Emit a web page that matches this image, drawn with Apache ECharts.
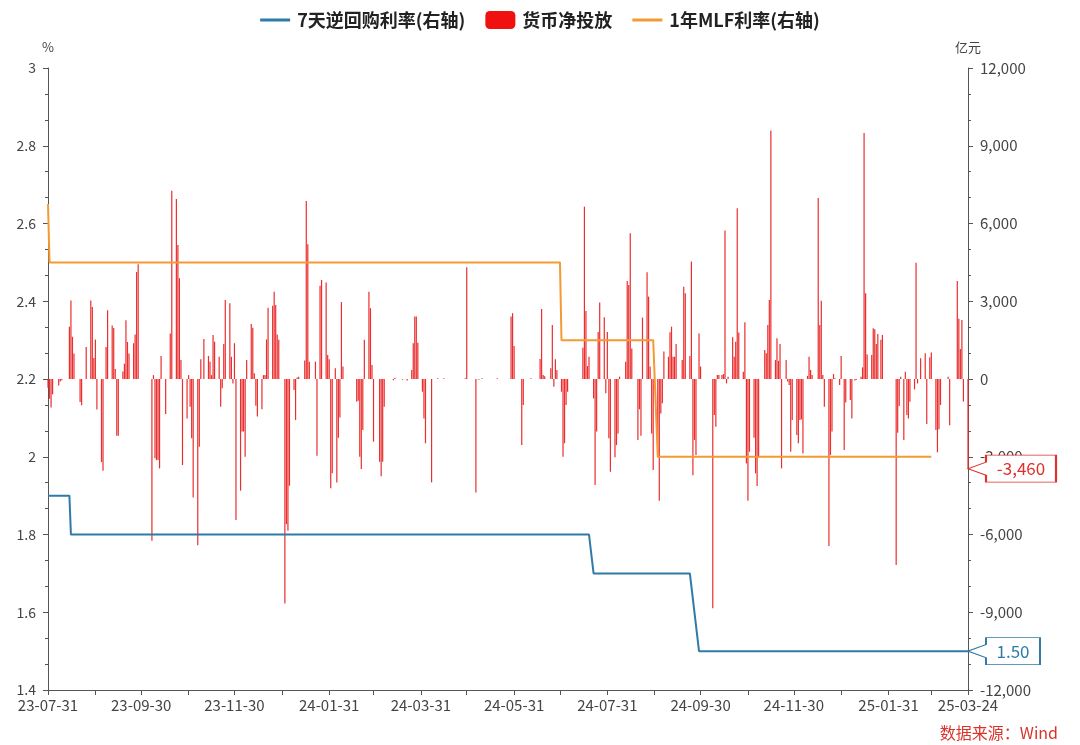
<!DOCTYPE html>
<html><head><meta charset="utf-8">
<script src="https://cdn.jsdelivr.net/npm/echarts@6/dist/echarts.min.js"></script>
<style>html,body{margin:0;padding:0;background:#fff}#c{width:1080px;height:745px}</style>
</head><body><div id="c"></div>
<script>
const startDate = '2023-07-31';
const endDate = '2025-03-24';
const labelDates = ['2023-07-31','2023-09-30','2023-11-30','2024-01-31','2024-03-31','2024-05-31','2024-07-31','2024-09-30','2024-11-30','2025-01-31','2025-03-24'];
const tickDates = ['2023-07-31','2023-08-31','2023-09-30','2023-10-31','2023-11-30','2023-12-31','2024-01-31','2024-02-29','2024-03-31','2024-04-30','2024-05-31','2024-06-30','2024-07-31','2024-08-31','2024-09-30','2024-10-31','2024-11-30','2024-12-31','2025-01-31','2025-02-28','2025-03-24'];

// 7天逆回购利率 (change points)
const repoRate = [['2023-07-31',1.9],['2023-08-14',1.9],['2023-08-15',1.8],['2024-07-19',1.8],['2024-07-22',1.7],['2024-09-23',1.7],['2024-09-29',1.5],['2025-03-24',1.5]];
// 1年MLF利率 (change points)
const mlfRate = [['2023-07-31',2.65],['2023-08-01',2.5],['2024-06-30',2.5],['2024-07-01',2.3],['2024-08-30',2.3],['2024-09-02',2.0],['2025-02-28',2.0]];

// 货币净投放 (亿元)
const net2023 = [
['2023-07-31',-340],['2023-08-01',-760],['2023-08-02',-1100],['2023-08-03',-590],['2023-08-07',-250],['2023-08-08',-100],['2023-08-09',-50],
['2023-08-14',2020],['2023-08-15',3030],['2023-08-16',1630],['2023-08-17',980],['2023-08-21',-890],['2023-08-22',-1010],['2023-08-25',1230],
['2023-08-28',3030],['2023-08-29',2780],['2023-08-30',810],['2023-08-31',1520],['2023-09-01',-1180],['2023-09-04',-3200],['2023-09-05',-3540],
['2023-09-07',1230],['2023-09-08',2650],['2023-09-11',2060],['2023-09-12',1970],['2023-09-13',390],['2023-09-14',-2190],['2023-09-15',-2190],
['2023-09-18',290],['2023-09-19',590],['2023-09-20',2270],['2023-09-21',1430],['2023-09-22',980],['2023-09-25',1380],['2023-09-26',1720],
['2023-09-27',4130],['2023-09-28',4430],['2023-10-07',-6240],['2023-10-08',150],['2023-10-09',-3060],['2023-10-10',-3130],['2023-10-11',-3130],
['2023-10-12',-3450],['2023-10-13',890],['2023-10-16',-1350],['2023-10-19',1760],['2023-10-20',7260],['2023-10-23',6950],['2023-10-24',5170],
['2023-10-25',3890],['2023-10-26',730],['2023-10-27',-3320],['2023-10-30',-1520],['2023-10-31',150],['2023-11-01',-1070],['2023-11-02',-2290],
['2023-11-03',-4570],['2023-11-06',-6410],['2023-11-07',-2610],['2023-11-08',760],['2023-11-10',1540],['2023-11-13',890],['2023-11-14',670],
['2023-11-15',150],['2023-11-16',1700],['2023-11-17',1440],['2023-11-20',860],['2023-11-21',-1070],['2023-11-22',-360],['2023-11-23',1350],
['2023-11-24',3050],['2023-11-27',2920],['2023-11-28',860],['2023-11-29',-170],['2023-11-30',1380],['2023-12-01',-5440],['2023-12-04',-4310],
['2023-12-05',-2030],['2023-12-06',-2030],['2023-12-07',-3000],['2023-12-08',730],['2023-12-11',2120],['2023-12-12',1980],['2023-12-13',220],
['2023-12-14',-1030],['2023-12-15',-1450],['2023-12-18',-1170],['2023-12-19',150],['2023-12-20',150],['2023-12-21',1530],['2023-12-22',2750],
['2023-12-25',2830],['2023-12-26',3370],['2023-12-27',2860],['2023-12-28',1720],['2023-12-29',1510]
];
const net2024 = [
['2024-01-02',-8660],['2024-01-03',-5600],['2024-01-04',-5860],['2024-01-05',-4120],['2024-01-08',-420],['2024-01-09',-1580],['2024-01-10',60],
['2024-01-11',90],['2024-01-15',710],['2024-01-16',6870],['2024-01-17',5200],['2024-01-18',670],['2024-01-22',670],['2024-01-23',-2960],
['2024-01-25',3600],['2024-01-26',3820],['2024-01-29',3720],['2024-01-30',930],['2024-01-31',760],['2024-02-01',-4220],['2024-02-02',-3640],
['2024-02-04',410],['2024-02-05',-3990],['2024-02-06',-2270],['2024-02-07',-1490],['2024-02-08',2970],['2024-02-09',480],['2024-02-18',-875],
['2024-02-19',-840],['2024-02-20',-3000],['2024-02-21',-3470],['2024-02-22',-1970],['2024-02-23',1510],['2024-02-26',3370],['2024-02-27',2730],
['2024-02-28',540],['2024-02-29',-2420],['2024-03-04',-3190],['2024-03-05',-3750],['2024-03-06',-3190],['2024-03-07',-1070],['2024-03-13',-50],
['2024-03-14',50],['2024-03-19',-30],['2024-03-22',-60],['2024-03-25',350],['2024-03-26',1380],['2024-03-27',2410],['2024-03-28',2410],
['2024-03-29',1400],['2024-04-01',-490],['2024-04-02',-1520],['2024-04-03',-2480],['2024-04-07',-3990],['2024-04-11',30],['2024-04-15',30],
['2024-04-29',30],['2024-04-30',4310],['2024-05-06',-4380],['2024-05-08',-30],['2024-05-10',30],['2024-05-20',30],['2024-05-29',2410],
['2024-05-30',2540],['2024-05-31',1270],['2024-06-05',-2550],['2024-06-06',-1000],['2024-06-11',30],['2024-06-17',770],['2024-06-18',2700],
['2024-06-19',150],['2024-06-20',110],['2024-06-24',410],['2024-06-25',2080],['2024-06-26',-300],['2024-06-27',760],['2024-06-28',350],
['2024-07-01',-490],['2024-07-02',-3000],['2024-07-03',-2480],['2024-07-04',-1000],['2024-07-05',-490],['2024-07-15',1210],['2024-07-16',6650],
['2024-07-17',2620],['2024-07-18',500],['2024-07-19',860],['2024-07-22',-750],['2024-07-23',-4090],['2024-07-24',-2030],['2024-07-25',1810],
['2024-07-26',2950],['2024-07-29',2380],['2024-07-30',-550],['2024-07-31',1810],['2024-08-01',-2290],['2024-08-02',-3580],['2024-08-05',-3020],
['2024-08-06',-2550],['2024-08-07',-2100],['2024-08-08',90],['2024-08-12',670],['2024-08-13',3780],['2024-08-14',3630],['2024-08-15',5620],
['2024-08-16',1180],['2024-08-20',-2350],['2024-08-21',-1170],['2024-08-22',-2190],['2024-08-23',2370],['2024-08-26',4120],['2024-08-27',3180],
['2024-08-28',480],['2024-08-29',-2100],['2024-08-30',-3510],['2024-09-02',-3020],['2024-09-03',-4700],['2024-09-04',-1330],['2024-09-05',-940],
['2024-09-06',1060],['2024-09-09',860],['2024-09-10',1800],['2024-09-11',2020],['2024-09-12',860],['2024-09-13',860],['2024-09-14',1350],
['2024-09-18',730],['2024-09-19',3560],['2024-09-20',3310],['2024-09-23',890],['2024-09-24',4530],['2024-09-25',-3710],['2024-09-26',-2350],
['2024-09-27',-2930],['2024-09-29',1760],['2024-09-30',480],['2024-10-08',-8850],['2024-10-09',-1390],['2024-10-10',-1840],['2024-10-11',150],
['2024-10-12',150],['2024-10-14',150],['2024-10-15',190],['2024-10-16',5730],['2024-10-17',-170],['2024-10-18',90],['2024-10-21',1610],
['2024-10-22',860],['2024-10-23',1440],['2024-10-24',6590],['2024-10-25',1790],['2024-10-28',280],['2024-10-29',2190],['2024-10-30',-3260],
['2024-10-31',-4700],['2024-11-01',-2810],['2024-11-04',-2270],['2024-11-05',-3640],['2024-11-06',-4130],['2024-11-07',-3020],['2024-11-11',1120],
['2024-11-12',990],['2024-11-13',2080],['2024-11-14',3050],['2024-11-15',9590],['2024-11-18',730],['2024-11-19',1570],['2024-11-20',700],
['2024-11-21',1350],['2024-11-22',-3450],['2024-11-25',730],['2024-11-26',-100],['2024-11-27',-230],['2024-11-28',-2810],['2024-11-29',-1580],
['2024-12-02',-2160],['2024-12-03',-2480],['2024-12-04',-1580],['2024-12-05',-1560],['2024-12-06',-2870],['2024-12-09',120],['2024-12-10',860],
['2024-12-11',350],['2024-12-12',150],['2024-12-16',6980],['2024-12-17',2080],['2024-12-18',3020],['2024-12-19',150],['2024-12-20',-1070],
['2024-12-23',-6440],['2024-12-24',-2930],['2024-12-25',-2030],['2024-12-26',190],['2024-12-27',30],['2024-12-30',-230],['2024-12-31',890]
];
const net2025 = [
['2025-01-02',-2740],['2025-01-03',-910],['2025-01-06',-810],['2025-01-07',-1520],['2025-01-09',-60],['2025-01-10',-30],['2025-01-13',90],
['2025-01-14',450],['2025-01-15',9490],['2025-01-16',3310],['2025-01-17',950],['2025-01-20',930],['2025-01-21',1960],['2025-01-22',1920],
['2025-01-23',1350],['2025-01-24',1740],['2025-01-26',1510],['2025-01-27',1700],['2025-02-05',-7180],['2025-02-06',-2070],['2025-02-07',-1040],
['2025-02-08',90],['2025-02-10',-2350],['2025-02-11',280],['2025-02-12',-1390],['2025-02-13',-1520],['2025-02-14',-875],['2025-02-17',-400],
['2025-02-18',4490],['2025-02-19',-170],['2025-02-21',800],['2025-02-24',990],['2025-02-25',-1740],['2025-02-27',840],['2025-02-28',1020],
['2025-03-03',-1970],['2025-03-04',-2830],['2025-03-05',-1940],['2025-03-06',-1000],['2025-03-11',90],['2025-03-12',-1780],['2025-03-17',3780],
['2025-03-18',2320],['2025-03-19',1160],['2025-03-20',2280],['2025-03-21',-875],['2025-03-24',-3460]
];

function buildDays(s, e) {
  const out = [];
  let t = Date.parse(s + 'T00:00:00Z');
  const end = Date.parse(e + 'T00:00:00Z');
  while (t <= end) { out.push(new Date(t).toISOString().slice(0, 10)); t += 86400000; }
  return out;
}
const days = buildDays(startDate, endDate);
const labelSet = new Set(labelDates);
const tickSet = new Set(tickDates);
const netData = net2023.concat(net2024, net2025);
const lastNet = netData[netData.length - 1];
const lastRepo = repoRate[repoRate.length - 1];

const FONT = '"Noto Sans CJK SC", "Noto Sans", sans-serif';
const BLUE = '#2f7aa6', ORANGE = '#f39a32', RED = '#ea2e2e';
const LINE_ICON = 'path://M0,0L30,0L30,3L0,3Z';

const chart = echarts.init(document.getElementById('c'), null, { renderer: 'canvas' });
chart.setOption({
  animation: false,
  backgroundColor: '#fff',
  textStyle: { fontFamily: FONT },
  legend: {
    top: 6, left: 'center', itemGap: 20, itemWidth: 30, itemHeight: 18,
    textStyle: { fontSize: 18, fontWeight: 'bold', color: '#222', fontFamily: FONT, padding: [0, 0, 0, 2] },
    data: [
      { name: '7天逆回购利率(右轴)', icon: LINE_ICON },
      { name: '货币净投放', icon: 'roundRect', itemStyle: { color: '#f01010' } },
      { name: '1年MLF利率(右轴)', icon: LINE_ICON }
    ]
  },
  grid: { left: 48, right: 112, top: 68, bottom: 55, containLabel: false },
  xAxis: {
    type: 'category', data: days, boundaryGap: false,
    axisLine: { onZero: false, lineStyle: { color: '#555', width: 1 } },
    axisTick: { show: true, length: 5, lineStyle: { color: '#555' }, interval: (i, v) => tickSet.has(v) },
    axisLabel: { color: '#444', fontSize: 15, margin: 8, interval: (i, v) => labelSet.has(v), formatter: v => v.slice(2) },
    splitLine: { show: false }
  },
  yAxis: [
    {
      type: 'value', min: 1.4, max: 3, interval: 0.2, position: 'left',
      name: '%', nameGap: 14, nameTextStyle: { color: '#444', fontSize: 13, align: 'center' },
      axisLine: { show: true, lineStyle: { color: '#555' } },
      axisTick: { show: true, length: 5, lineStyle: { color: '#555' } },
      minorTick: { show: true, splitNumber: 3, length: 3, lineStyle: { color: '#555' } },
      axisLabel: { color: '#444', fontSize: 14, margin: 12 },
      splitLine: { show: false }
    },
    {
      type: 'value', min: -12000, max: 12000, interval: 3000, position: 'right',
      name: '亿元', nameGap: 14, nameTextStyle: { color: '#444', fontSize: 13, align: 'center' },
      axisLine: { show: true, lineStyle: { color: '#555' } },
      axisTick: { show: true, length: 5, lineStyle: { color: '#555' } },
      minorTick: { show: true, splitNumber: 3, length: 3, lineStyle: { color: '#555' } },
      axisLabel: { color: '#444', fontSize: 15, margin: 12, formatter: v => v.toLocaleString('en-US') },
      splitLine: { show: false }
    }
  ],
  series: [
    {
      name: '货币净投放', type: 'bar', yAxisIndex: 1, data: netData, barWidth: 1.2,
      itemStyle: { color: RED }, z: 2,
      markPoint: {
        symbol: 'path://M0,13.5L18,7L18,0L88,0L88,27L18,27L18,20Z',
        symbolSize: [88, 27], symbolKeepAspect: false, symbolOffset: ['50%', 0],
        itemStyle: { color: '#fff', borderColor: '#e0302a', borderWidth: 1.2 },
        label: { show: true, position: 'inside', offset: [9, 0], color: '#e0302a', fontSize: 17, fontFamily: FONT, formatter: () => lastNet[1].toLocaleString('en-US') },
        data: [{ coord: [lastNet[0], lastNet[1]] }]
      }
    },
    {
      name: '7天逆回购利率(右轴)', type: 'line', yAxisIndex: 0, data: repoRate,
      showSymbol: false, symbol: 'none', lineStyle: { color: BLUE, width: 2 }, itemStyle: { color: BLUE }, z: 4,
      markPoint: {
        symbol: 'path://M0,13.5L18,7L18,0L72,0L72,27L18,27L18,20Z',
        symbolSize: [72, 27], symbolKeepAspect: false, symbolOffset: ['50%', 0],
        itemStyle: { color: '#fff', borderColor: BLUE, borderWidth: 1.2 },
        label: { show: true, position: 'inside', offset: [9, 0], color: BLUE, fontSize: 17, fontFamily: FONT, formatter: () => lastRepo[1].toFixed(2) },
        data: [{ coord: [lastRepo[0], lastRepo[1]] }]
      }
    },
    {
      name: '1年MLF利率(右轴)', type: 'line', yAxisIndex: 0, data: mlfRate,
      showSymbol: false, symbol: 'none', lineStyle: { color: ORANGE, width: 2 }, itemStyle: { color: ORANGE }, z: 3
    }
  ],
  graphic: [
    { type: 'text', right: 22, bottom: 4, style: { text: '数据来源：Wind', fill: '#d9342b', font: '16px "Noto Sans CJK SC", sans-serif' } }
  ]
});
</script></body></html>
